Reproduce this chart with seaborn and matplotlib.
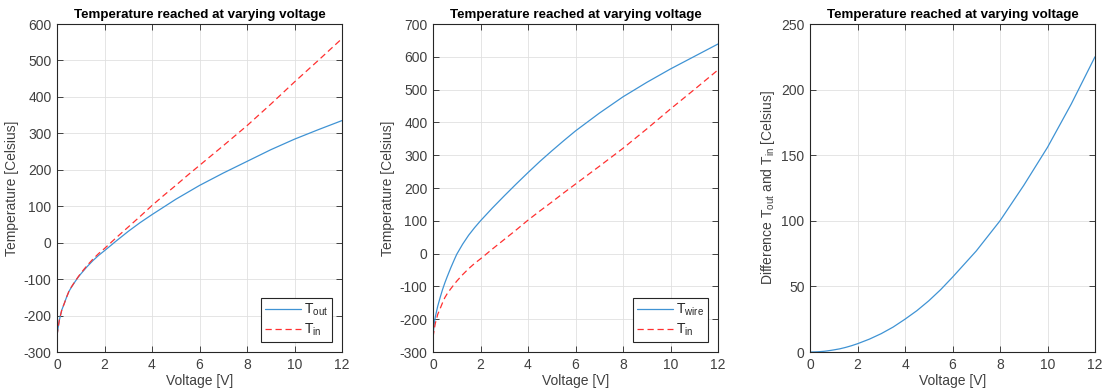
import matplotlib
matplotlib.use("Agg")
import matplotlib.pyplot as plt
import seaborn as sns
import pandas as pd

# ---- data ----
voltage = [0, 0.05, 0.1, 0.2, 0.3, 0.4, 0.5, 0.6, 0.75, 0.9, 1, 1.25, 1.5, 1.75, 2, 2.5, 3, 3.5,
           4, 4.5, 5, 5.5, 6, 7, 8, 9, 10, 11, 12]
t_in = [-255, -232, -212, -185, -168, -150, -134, -122, -107, -93, -84, -64, -46, -30, -16, 14, 43, 72,
        102, 130, 157, 185, 212, 266, 321, 380, 441, 500, 560]
t_out = [-255, -232, -212, -185, -168, -150, -134, -123, -108, -94, -86, -67, -50, -35, -22, 5, 31, 55,
         77, 98, 119, 138, 157, 191, 223, 255, 284, 310, 335]
t_wire = [-252, -214, -192, -160, -134, -110, -89, -70, -43, -18, -2, 29, 56, 79, 100, 139, 176, 212,
          247, 281, 313, 344, 374, 428, 478, 522, 563, 601, 639]
t_diff = [0, 0, 0.02, 0.06, 0.14, 0.25, 0.4, 0.55, 0.9, 1.3, 1.6, 2.4, 3.5, 4.8, 6.3, 9.8, 14, 19,
          25, 31.5, 39, 47.5, 57, 77, 100, 127, 156, 189, 225]

title = "Temperature reached at varying voltage"
xlabel = "Voltage [V]"
ylabel = "Temperature [Celsius]"
ylabel3 = "Difference T$_\\mathregular{out}$ and T$_\\mathregular{in}$ [Celsius]"
lbl_out = "T$_\\mathregular{out}$"
lbl_in = "T$_\\mathregular{in}$"
lbl_wire = "T$_\\mathregular{wire}$"
xticks = [0, 2, 4, 6, 8, 10, 12]
yticks1 = list(range(-300, 601, 100))
yticks2 = list(range(-300, 701, 100))
yticks3 = list(range(0, 251, 50))

df = pd.DataFrame({"V": voltage, "Tin": t_in, "Tout": t_out, "Twire": t_wire, "Diff": t_diff})

sns.set_style("whitegrid")
plt.rcParams["font.family"] = ["Liberation Sans", "DejaVu Sans"]
plt.rcParams["mathtext.fontset"] = "custom"
plt.rcParams["axes.unicode_minus"] = False

BLUE = "#3f93d4"
RED = "#ff3030"
AXC = "#262626"
TXT = "#404040"
FS = 10

fig = plt.figure(figsize=(11.02, 3.91), dpi=100)
W, H = 1102, 391
boxes = [(57, 342), (433, 718), (810, 1095)]
top, bot = 24, 352
axes = [fig.add_axes([l / W, 1 - bot / H, (r - l) / W, (bot - top) / H]) for l, r in boxes]


def style(ax, yticks):
    ax.set_xlim(0, 12)
    ax.set_ylim(yticks[0], yticks[-1])
    ax.set_xticks(xticks)
    ax.set_yticks(yticks)
    ax.grid(True, color="#e0e0e0", linewidth=0.6)
    ax.set_axisbelow(True)
    for s in ax.spines.values():
        s.set_visible(True)
        s.set_color(AXC)
        s.set_linewidth(0.8)
    ax.tick_params(direction="in", length=4, width=0.6, colors=AXC, labelsize=FS,
                   top=True, right=True, bottom=True, left=True, pad=4)
    for lab in ax.get_xticklabels() + ax.get_yticklabels():
        lab.set_color(TXT)
    ax.set_title(title, fontsize=9.6, fontweight="bold", color="black", pad=4)
    ax.set_xlabel(xlabel, fontsize=FS, color=TXT, labelpad=2)


ax1, ax2, ax3 = axes
sns.lineplot(data=df, x="V", y="Tout", ax=ax1, color=BLUE, linewidth=0.9, label=lbl_out)
sns.lineplot(data=df, x="V", y="Tin", ax=ax1, color=RED, linewidth=0.9, linestyle=(0, (5, 3)), label=lbl_in)
style(ax1, yticks1)
ax1.set_ylabel(ylabel, fontsize=FS, color=TXT, labelpad=3)

sns.lineplot(data=df, x="V", y="Twire", ax=ax2, color=BLUE, linewidth=0.9, label=lbl_wire)
sns.lineplot(data=df, x="V", y="Tin", ax=ax2, color=RED, linewidth=0.9, linestyle=(0, (5, 3)), label=lbl_in)
style(ax2, yticks2)
ax2.set_ylabel(ylabel, fontsize=FS, color=TXT, labelpad=3)

sns.lineplot(data=df, x="V", y="Diff", ax=ax3, color=BLUE, linewidth=0.9, legend=False)
style(ax3, yticks3)
ax3.set_ylabel(ylabel3, fontsize=FS, color=TXT, labelpad=3)

for ax in (ax1, ax2):
    leg = ax.legend(loc="lower right", fontsize=FS, frameon=True, fancybox=False,
                    edgecolor=AXC, framealpha=1, borderpad=0.3, handlelength=2.6,
                    handletextpad=0.2, labelspacing=0.25, borderaxespad=0.7)
    leg.get_frame().set_linewidth(0.8)

fig.savefig("out.png", dpi=100)
